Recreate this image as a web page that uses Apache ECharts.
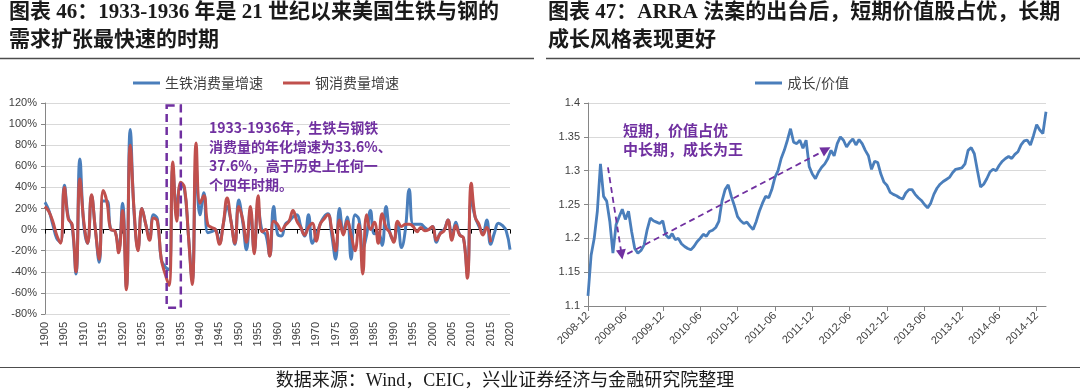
<!DOCTYPE html>
<html><head><meta charset="utf-8">
<script src="https://cdn.jsdelivr.net/npm/echarts@6/dist/echarts.min.js"></script>
<style>html,body{margin:0;padding:0;background:#fff}#c{width:1080px;height:392px}</style>
</head><body><div id="c"></div>
<script>
// ---------- Left chart data (annual growth, %) ----------
const firstYear = 1900;
const lastYear = 2020;
const pigIronGrowth = [
  26,18,5,-8,-12,42,12,3,-42,67,
  5,-13,32,0,-31,27,27,0,-1,-20,
  25,-55,95,15,-18,20,5,-8,14,10,
  -28,-35,-38,58,20,42,38,-5,-48,60,
  14,35,-3,-2,0,-13,5,22,8,-14,
  28,8,-19,18,-20,22,-1,-5,-25,22,
  -4,-6,5,8,12,14,3,-6,14,-13,
  -5,5,12,15,-5,-28,20,-2,12,-28,
  14,10,-18,-5,18,-4,-3,-15,22,-3,
  -10,5,-17,0,38,5,5,5,2,0,
  3,-12,-3,0,9,-8,7,-5,-8,-42,
  28,12,3,-3,9,-14,-3,6,4,-1,
  -19
];
const steelGrowth = [
  22,17,8,-5,-13,40,10,5,-40,48,
  8,-13,33,0,-28,37,26,0,-1,-22,
  18,-57,80,18,-20,20,5,-10,11,8,
  -28,-42,-53,64,8,45,40,-5,-52,82,
  25,32,5,2,0,-14,5,30,8,-13,
  22,10,-12,22,-23,32,-2,0,-25,8,
  5,-1,4,8,18,8,2,-5,2,6,
  -11,5,10,14,0,-20,9,-5,8,-5,
  -20,5,-42,14,0,7,-13,15,2,-3,
  -12,8,3,5,5,3,-2,2,-1,0,
  3,-10,-4,-1,9,-10,4,-5,-8,-46,
  44,12,5,-5,2,-12
];
const leftYMin = -80, leftYMax = 120, leftYStep = 20;
const highlightYears = [1931.4, 1935.05];
const highlightRange = [117.6, -74];

// ---------- Right chart data (growth / value ratio, half-month samples from 2008-12) ----------
const ratioStartYear = 2008, ratioStartMonth = 12;
const ratioStepMonths = 0.5;
const growthValueRatio = [
  1.115,1.175,1.200,1.240,1.310,1.262,1.255,1.225,1.178,1.220,
  1.232,1.243,1.228,1.240,1.210,1.185,1.178,1.182,1.190,1.213,
  1.230,1.226,1.224,1.222,1.226,1.205,1.200,1.207,1.198,1.200,
  1.192,1.188,1.185,1.183,1.188,1.195,1.200,1.206,1.203,1.210,
  1.212,1.216,1.225,1.255,1.272,1.279,1.262,1.248,1.232,1.226,
  1.222,1.224,1.218,1.213,1.225,1.240,1.252,1.262,1.260,1.272,
  1.290,1.300,1.318,1.330,1.345,1.362,1.342,1.340,1.345,1.333,
  1.345,1.306,1.295,1.288,1.298,1.305,1.310,1.318,1.330,1.322,
  1.340,1.350,1.345,1.335,1.342,1.347,1.338,1.346,1.340,1.330,
  1.322,1.302,1.314,1.312,1.295,1.283,1.278,1.268,1.265,1.263,
  1.260,1.258,1.267,1.272,1.272,1.265,1.260,1.256,1.250,1.245,
  1.252,1.265,1.274,1.280,1.284,1.287,1.290,1.297,1.302,1.303,
  1.304,1.310,1.330,1.334,1.325,1.300,1.276,1.280,1.288,1.298,
  1.302,1.300,1.308,1.314,1.318,1.321,1.318,1.324,1.328,1.338,
  1.344,1.345,1.338,1.352,1.368,1.360,1.355,1.387
];
const rightYMin = 1.1, rightYMax = 1.4, rightYStep = 0.05;
const rightTickMonths = [0,6,12,18,24,30,36,42,48,54,60,66,72];
// annotation arrows: [monthOffset, ratio]
const arrowShort = [[3.2, 1.305], [5.4, 1.176]];
const arrowLong = [[6.3, 1.177], [38.2, 1.331]];

const purple = '#7030A0';
const blue = '#4A7EBB';
const red = '#C0504D';
const cjk = '"Noto Sans CJK SC"';
const serifMix = '"Liberation Serif", "Noto Sans CJK SC"';

const pigData = pigIronGrowth.map((v, i) => [firstYear + i, v]);
const steelData = steelGrowth.map((v, i) => [firstYear + i, v]);
const ratioData = growthValueRatio.map((v, i) => [i * ratioStepMonths, v]);
const ratioMax = (growthValueRatio.length - 1) * ratioStepMonths;

function monthLabel(m) {
  const total = ratioStartMonth - 1 + Math.round(m);
  const y = ratioStartYear + Math.floor(total / 12);
  const mo = total % 12 + 1;
  return y + '-' + (mo < 10 ? '0' + mo : mo);
}

const axisLabelStyle = { color: '#404040', fontSize: 11, fontFamily: '"Liberation Sans", Arial, sans-serif' };
const gridLine = { show: true, lineStyle: { color: '#d9d9d9', width: 1 } };
const axisGray = { color: '#868686', width: 1 };
const legendIcon = 'path://M0,0 L27,0 L27,3 L0,3 Z';

function titleLine(text, x, y) {
  return { type: 'text', x: x, y: y, silent: true,
    style: { text: text, fill: '#1a1a1a', font: 'bold 21px ' + serifMix, verticalAlign: 'middle', textVerticalAlign: 'middle' } };
}
function noteLine(text, x, y, size) {
  return { type: 'text', x: x, y: y, silent: true, z: 20,
    style: { text: text, fill: purple, font: 'bold ' + size + 'px ' + cjk, verticalAlign: 'middle', textVerticalAlign: 'middle' } };
}

const chart = echarts.init(document.getElementById('c'), null, { renderer: 'canvas' });
chart.setOption({
  backgroundColor: '#ffffff',
  animation: false,
  textStyle: { fontFamily: cjk },
  grid: [
    { left: 45, right: 570, top: 103, bottom: 78 },
    { left: 588, right: 34, top: 103, bottom: 86 }
  ],
  legend: [
    { data: ['生铁消费量增速', '钢消费量增速'], left: 128, top: 71, icon: legendIcon, itemWidth: 27, itemHeight: 3, itemGap: 20,
      textStyle: { color: '#404040', fontSize: 14, fontFamily: cjk }, selectedMode: false },
    { data: ['成长/价值'], left: 750, top: 71, icon: legendIcon, itemWidth: 28, itemHeight: 3,
      textStyle: { color: '#404040', fontSize: 14, fontFamily: cjk }, selectedMode: false }
  ],
  xAxis: [
    { gridIndex: 0, type: 'value', min: firstYear, max: lastYear, interval: 5, position: 'bottom',
      axisLine: { show: false, onZero: false }, axisTick: { show: false }, splitLine: { show: false },
      axisLabel: Object.assign({ rotate: 90, margin: 8, formatter: v => String(v) }, axisLabelStyle) },
    { gridIndex: 0, type: 'value', min: firstYear, max: lastYear, interval: 5, position: 'bottom',
      axisLine: { show: true, onZero: true, lineStyle: { color: '#000', width: 1 } },
      axisTick: { show: true, length: 4, lineStyle: { color: '#000' } },
      axisLabel: { show: false }, splitLine: { show: false } },
    { gridIndex: 1, type: 'value', min: 0, max: ratioMax, interval: 6, position: 'bottom',
      axisLine: { show: true, onZero: false, lineStyle: axisGray },
      axisTick: { show: true, length: 5, lineStyle: axisGray, customValues: rightTickMonths },
      splitLine: { show: false },
      axisLabel: Object.assign({ rotate: 45, margin: 8, customValues: rightTickMonths,
        formatter: v => (Math.abs(v % 6) < 1e-6 ? monthLabel(v) : '') }, axisLabelStyle) }
  ],
  yAxis: [
    { gridIndex: 0, type: 'value', min: leftYMin, max: leftYMax, interval: leftYStep,
      axisLine: { show: true, onZero: false, lineStyle: axisGray },
      axisTick: { show: true, length: 4, lineStyle: axisGray },
      splitLine: gridLine,
      axisLabel: Object.assign({ formatter: '{value}%', margin: 8 }, axisLabelStyle) },
    { gridIndex: 1, type: 'value', min: rightYMin, max: rightYMax, interval: rightYStep,
      axisLine: { show: true, onZero: false, lineStyle: axisGray },
      axisTick: { show: true, length: 4, lineStyle: axisGray },
      splitLine: gridLine,
      axisLabel: Object.assign({ margin: 8, formatter: v => String(+v.toFixed(2)) }, axisLabelStyle) }
  ],
  series: [
    { name: '生铁消费量增速', type: 'line', xAxisIndex: 0, yAxisIndex: 0, data: pigData,
      smooth: 0.45, symbol: 'none', showSymbol: false, lineStyle: { color: blue, width: 3 }, itemStyle: { color: blue },
      emphasis: { disabled: true }, z: 2 },
    { name: '钢消费量增速', type: 'line', xAxisIndex: 0, yAxisIndex: 0, data: steelData,
      smooth: 0.45, symbol: 'none', showSymbol: false, lineStyle: { color: red, width: 3 }, itemStyle: { color: red },
      emphasis: { disabled: true }, z: 3,
      markArea: { silent: true, z: 10,
        itemStyle: { color: 'rgba(0,0,0,0)', borderColor: purple, borderWidth: 2.5, borderType: [8, 5] },
        label: { show: false },
        data: [[{ coord: [highlightYears[0], highlightRange[0]] }, { coord: [highlightYears[1], highlightRange[1]] }]] } },
    { name: '成长/价值', type: 'line', xAxisIndex: 2, yAxisIndex: 1, data: ratioData,
      smooth: false, symbol: 'none', showSymbol: false, lineStyle: { color: blue, width: 2.8 }, itemStyle: { color: blue },
      emphasis: { disabled: true }, z: 2,
      markLine: { silent: true, animation: false, symbol: ['none', 'triangle'], symbolSize: 10,
        label: { show: false },
        lineStyle: { color: purple, width: 1.8, type: [6, 4] },
        emphasis: { disabled: true },
        data: [
          [{ coord: arrowShort[0] }, { coord: arrowShort[1] }],
          [{ coord: arrowLong[0] }, { coord: arrowLong[1] }]
        ] } }
  ],
  graphic: [
    titleLine('图表 46：1933-1936 年是 21 世纪以来美国生铁与钢的', 9, 13),
    titleLine('需求扩张最快速的时期', 9, 41),
    titleLine('图表 47：ARRA 法案的出台后，短期价值股占优，长期', 548, 13),
    titleLine('成长风格表现更好', 548, 41),
    { type: 'line', silent: true, shape: { x1: 0, y1: 58.5, x2: 534, y2: 58.5 }, style: { stroke: '#4d4d4d', lineWidth: 1.5 } },
    { type: 'line', silent: true, shape: { x1: 546, y1: 58.5, x2: 1080, y2: 58.5 }, style: { stroke: '#4d4d4d', lineWidth: 1.5 } },
    { type: 'line', silent: true, shape: { x1: 0, y1: 367.5, x2: 1080, y2: 367.5 }, style: { stroke: '#4d4d4d', lineWidth: 1.2 } },
    { type: 'text', silent: true, x: 505, y: 381,
      style: { text: '数据来源：Wind，CEIC，兴业证券经济与金融研究院整理', fill: '#1a1a1a', font: '18px ' + serifMix,
        align: 'center', textAlign: 'center', verticalAlign: 'middle', textVerticalAlign: 'middle' } },
    noteLine('1933-1936年，生铁与钢铁', 209, 128, 14),
    noteLine('消费量的年化增速为33.6%、', 209, 147, 14),
    noteLine('37.6%，高于历史上任何一', 209, 166, 14),
    noteLine('个四年时期。', 209, 185, 14),
    noteLine('短期，价值占优', 623, 130, 15),
    noteLine('中长期，成长为王', 623, 149, 15)
  ]
});
</script>
</body></html>
